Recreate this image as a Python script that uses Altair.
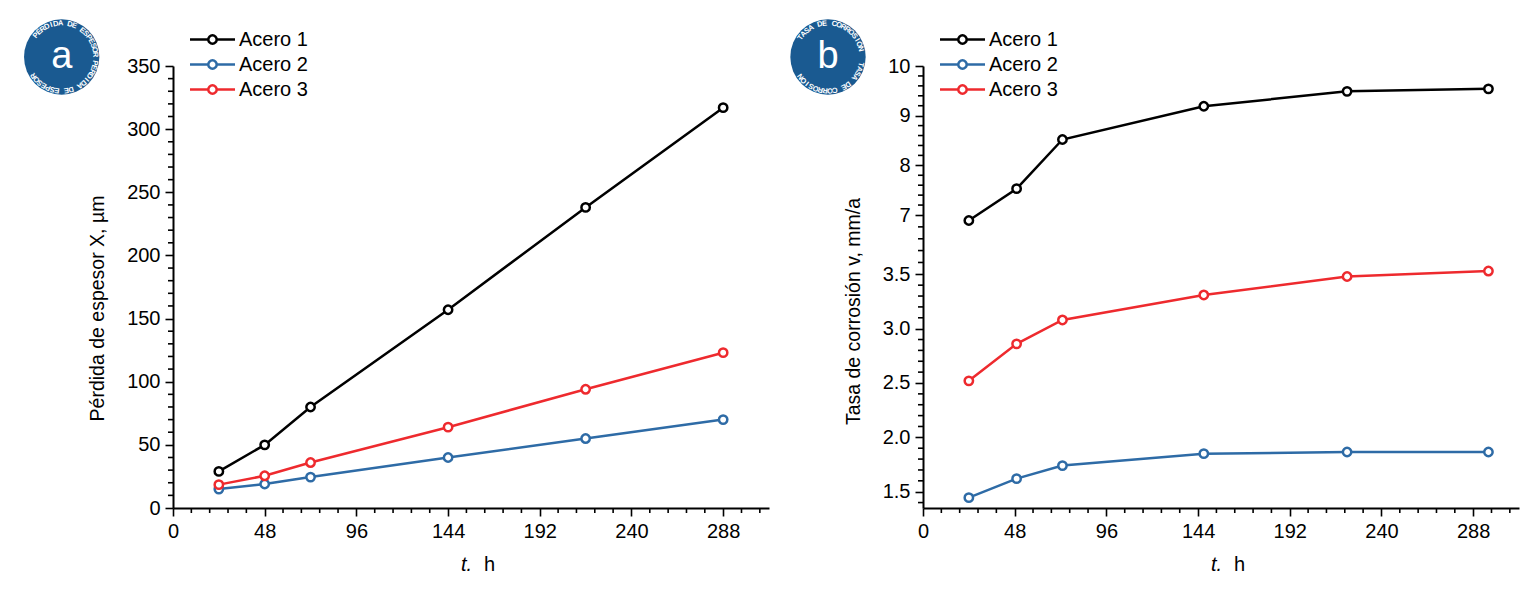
import altair as alt
import pandas as pd

# ---------------- data ----------------
series = ["Acero 1", "Acero 2", "Acero 3"]
colors = ["#000000", "#2e6ba6", "#ee2a2e"]

# panel a: thickness loss X (um) vs t (h)
t_a = [24, 48, 72, 144, 216, 288]
loss_acero1 = [29, 50, 80, 157, 238, 317]
loss_acero2 = [15, 19, 24.5, 40, 55, 70]
loss_acero3 = [18.5, 25.5, 36, 64, 94, 123]

# panel b: corrosion rate v (mm/a) vs t (h)
t_b = [24, 49, 73, 147, 222, 296]
rate_acero1 = [6.89, 7.53, 8.52, 9.19, 9.49, 9.54]
rate_acero2 = [1.445, 1.62, 1.74, 1.85, 1.865, 1.865]
rate_acero3 = [2.52, 2.86, 3.08, 3.31, 3.48, 3.53]

# tick values
x_major = [0, 48, 96, 144, 192, 240, 288]
x_minor = [round(i * 9.6, 4) for i in range(33) if i % 5 != 0]
ya_major = list(range(0, 351, 50))
ya_minor = [v for v in range(0, 351, 10) if v % 50 != 0]
yb_major = [1.5, 2.0, 2.5, 3.0, 3.5, 7, 8, 9, 10]
yb_minor = ([round(1.4 + 0.1 * i, 4) for i in range(22) if i % 5 != 1]
            + [3.68, 4.67, 5.65, 6.64]
            + [round(7 + 0.2 * i, 4) for i in range(16) if i % 5 != 0])

badge_a_text = "PÉRDIDA DE ESPESOR"
badge_b_text = "TASA DE CORROSIÓN"

W, H = 596, 442

def long_df(t, vals):
    rows = []
    for s, v in zip(series, vals):
        for ti, vi in zip(t, v):
            rows.append({"t": ti, "val": vi, "serie": s})
    return pd.DataFrame(rows)

df_a = long_df(t_a, [loss_acero1, loss_acero2, loss_acero3])
df_b = long_df(t_b, [rate_acero1, rate_acero2, rate_acero3])

cscale = alt.Scale(domain=series, range=colors)
one = pd.DataFrame({"k": [0]})
leg_df = pd.DataFrame({"serie": series})

x_axis = alt.Axis(
    values=x_major, title=None, grid=False, labelFlush=False, labelOverlap=False,
    format="d", tickSize=8, labelPadding=5, labelFontSize=20,
)
x_scale = alt.Scale(domain=[0, 312], nice=False, zero=False)


def panel(df, y_scale, y_axis, y_minor, cx, cy, letter, ring_text, start, step, copy_step):
    base = alt.Chart(df)
    x = alt.X("t:Q", scale=x_scale, axis=x_axis)
    y = alt.Y("val:Q", scale=y_scale, axis=y_axis)
    col = alt.Color("serie:N", scale=cscale, legend=None)

    lines = base.mark_line(strokeWidth=2.5).encode(x=x, y=y, color=col, detail="serie:N")
    pts = base.mark_point(shape="circle", filled=False, fill="white", fillOpacity=1,
                          size=70, strokeWidth=2.5, opacity=1).encode(x=x, y=y, color=col)

    # minor ticks drawn through the shared scales
    xm = alt.Chart(pd.DataFrame({"t": x_minor})).mark_rule(color="black", strokeWidth=1.6).encode(
        x=x, y=alt.value(H), y2=alt.value(H + 5))
    ym = alt.Chart(pd.DataFrame({"val": y_minor})).mark_rule(color="black", strokeWidth=1.6).encode(
        y=y, x=alt.value(0), x2=alt.value(-5))

    # badge
    circle = alt.Chart(one).mark_circle(size=5675, opacity=1, color="#1a5a91").encode(
        x=alt.value(cx), y=alt.value(cy))
    letter_mk = alt.Chart(one).mark_text(fontSize=38, color="white", baseline="alphabetic",
                                         align="center", font="Liberation Sans").encode(
        x=alt.value(cx), y=alt.value(cy + 11), text=alt.value(letter))
    ring_rows = []
    for c in range(2):
        for p, ch in enumerate(ring_text):
            ring_rows.append({"ch": ch, "pos": p, "copy": c})
    ring = alt.Chart(pd.DataFrame(ring_rows)).transform_calculate(
        theta=f"{start} + datum.copy*{copy_step} + datum.pos*{step}"
    ).transform_calculate(
        px=f"{cx} + 33.5*sin(datum.theta*PI/180)",
        py=f"{cy} - 33.5*cos(datum.theta*PI/180)",
        ang="((datum.theta % 360) + 360) % 360",
    ).mark_text(fontSize=7.5, color="white", baseline="middle", align="center",
                font="Liberation Sans", fontWeight="bold").encode(
        x=alt.X("px:Q", scale=None, axis=None),
        y=alt.Y("py:Q", scale=None, axis=None),
        angle=alt.Angle("ang:Q", scale=None),
        text="ch:N",
    )

    # legend (manual)
    leg = alt.Chart(leg_df).transform_window(idx="row_number()").transform_calculate(
        ly="-26.5 + 25*(datum.idx-1)")
    leg_y = alt.Y("ly:Q", scale=None, axis=None)
    leg_line = leg.mark_rule(strokeWidth=2.5).encode(
        x=alt.value(17), x2=alt.value(62), y=leg_y, color=col)
    leg_pt = leg.mark_point(shape="circle", filled=False, fill="white", fillOpacity=1,
                            size=70, strokeWidth=2.5, opacity=1).encode(
        x=alt.value(39.5), y=leg_y, color=col)
    leg_txt = leg.mark_text(fontSize=20, align="left", baseline="middle", color="black",
                            font="Liberation Sans").encode(
        x=alt.value(66), y=leg_y, text="serie:N")

    # x title "t. h"
    xt1 = alt.Chart(one).mark_text(fontSize=20, fontStyle="italic", align="right",
                                   baseline="middle", font="Liberation Sans").encode(
        x=alt.value(299), y=alt.value(499), text=alt.value("t."))
    xt2 = alt.Chart(one).mark_text(fontSize=20, align="left", baseline="middle",
                                   font="Liberation Sans").encode(
        x=alt.value(311), y=alt.value(499), text=alt.value("h"))

    return alt.layer(circle, ring, letter_mk, xm, ym, lines, pts, leg_line, leg_pt, leg_txt,
                     xt1, xt2).properties(width=W, height=H)


ya_scale = alt.Scale(domain=[0, 350], nice=False, zero=False)
ya_axis = alt.Axis(
    values=ya_major, grid=False, labelOverlap=False, labelFlush=False, format="d",
    title="Pérdida de espesor X, µm", titleFontSize=19.5, titleFontWeight="normal",
    titleAngle=270, titleBaseline="middle", titleAlign="center", titleX=-76, titleY=242,
    tickSize=8, labelPadding=5, labelFontSize=20,
)

yb_scale = alt.Scale(domain=[1.35, 3.6, 6.8, 10], range=[442, 197.43, 158.94, 0],
                     nice=False, zero=False)
yb_axis = alt.Axis(
    values=yb_major, grid=False, labelOverlap=False, labelFlush=False,
    title="Tasa de corrosión v, mm/a", titleFontSize=19.5, titleFontWeight="normal",
    titleAngle=270, titleBaseline="middle", titleAlign="center", titleX=-70, titleY=245,
    labelExpr="datum.value < 5 ? format(datum.value, '.1f') : format(datum.value, 'd')",
    tickSize=8, labelPadding=5, labelFontSize=20,
)

pa = panel(df_a, ya_scale, ya_axis, ya_minor, -111.3, -9, "a", badge_a_text, -50, 8, 150)
pb = panel(df_b, yb_scale, yb_axis, yb_minor, -95, -9, "b", badge_b_text, -55, 8.2, 158)

chart = alt.hconcat(pa, pb, spacing=21).properties(
    padding={"left": 16, "top": 11, "right": 5, "bottom": 5}
).configure(font="Liberation Sans").configure_view(stroke=None).configure_axis(
    domainColor="black", domainWidth=2, tickColor="black", tickWidth=1.6,
    labelColor="black", titleColor="black", labelFont="Liberation Sans",
    titleFont="Liberation Sans",
)

chart.save("out.html", embed_options={"renderer": "svg", "actions": False})
